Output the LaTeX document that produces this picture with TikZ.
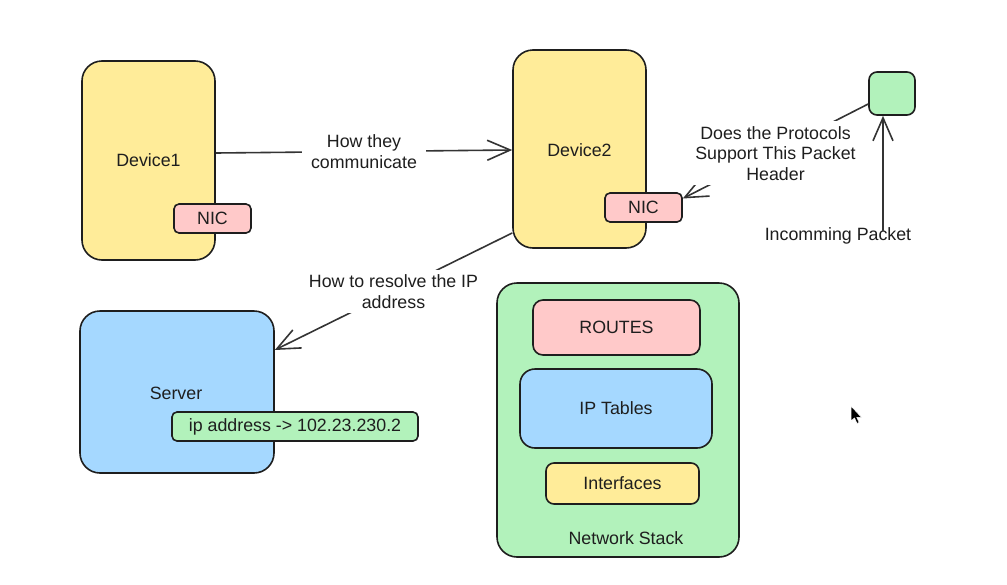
\documentclass[tikz,border=0pt]{standalone}
\usepackage{fontspec}
\setmainfont{Liberation Sans}
\usetikzlibrary{arrows.meta}
\definecolor{cyel}{HTML}{FFEC99}
\definecolor{cpink}{HTML}{FFC9C9}
\definecolor{cblue}{HTML}{A5D8FF}
\definecolor{cgreen}{HTML}{B2F2BB}
\definecolor{cstroke}{HTML}{1E1E1E}
\definecolor{cline}{HTML}{343434}
\definecolor{ctext}{HTML}{1E1E1E}
\tikzset{
  box/.style={draw=cstroke, line width=1.6pt, rounded corners=#1, inner sep=0pt, text=ctext,
     font=\fontsize{17.8pt}{20pt}\selectfont},
  box/.default=20pt,
  lbl/.style={fill=white, inner xsep=9pt, inner ysep=5pt, align=center, text=ctext,
     font=\fontsize{17.8pt}{20.5pt}\selectfont},
  plain/.style={inner sep=2pt, align=center, text=ctext,
     font=\fontsize{17.8pt}{20.5pt}\selectfont},
  arr/.style={draw=cline, line width=1.6pt, -{Straight Barb[length=23pt,width=20pt]}},
}
\begin{document}
\begin{tikzpicture}[x=1pt,y=-1pt]
\useasboundingbox[fill=white] (0,0) rectangle (1007,584);
% boxes
\node[box, fill=cyel, minimum width=133pt, minimum height=199pt] (d1) at (148.5,160.5) {Device1};
\node[box=5pt, fill=cpink, minimum width=77pt, minimum height=29pt] (n1) at (212.5,218.5) {NIC};
\node[box, fill=cyel, minimum width=133pt, minimum height=198pt] (d2) at (579.5,149) {};
\node[plain] (d2l) at (579.5,150) {Device2};
\node[box=5pt, fill=cpink, minimum width=77pt, minimum height=29pt] (n2) at (643.5,207.5) {NIC};
\node[box=8pt, fill=cgreen, minimum width=46pt, minimum height=43pt] (gs) at (892,93.5) {};
\node[box, fill=cblue, minimum width=194pt, minimum height=162pt] (srv) at (177,392) {};
\node[plain] (srvl) at (176,393) {Server};
\node[box=5pt, fill=cgreen, minimum width=246pt, minimum height=29pt] (ipa) at (295,426.5) {ip address -> 102.23.230.2};
\node[box, fill=cgreen, minimum width=242pt, minimum height=274pt] (ns) at (618,420) {};
\node[plain] (nsl) at (626,538) {Network Stack};
\node[box=10pt, fill=cpink, minimum width=167pt, minimum height=55pt] (rt) at (616.5,327.5) {ROUTES};
\node[box=15pt, fill=cblue, minimum width=192pt, minimum height=79pt] (ipt) at (616,408.5) {IP Tables};
\node[box=8pt, fill=cyel, minimum width=153pt, minimum height=41pt] (ifs) at (622.5,483.5) {Interfaces};
\node[plain] (inc) at (838,236) {Incomming Packet};
% connectors
\draw[arr] ([yshift=7.5pt]d1.east) -- node[lbl] (l1) {How they\\communicate} ([yshift=-1pt]d2.west);
\draw[arr] ([yshift=-10.5pt]gs.west) -- node[lbl, pos=0.5, yshift=-2pt] (l2) {Does the Protocols\\Support This Packet\\Header} ([yshift=9pt]n2.east);
\draw[arr] ([xshift=-9pt,yshift=-5pt]gs.south |- inc.north) -- ([xshift=-9pt]gs.south);
\draw[arr] ([yshift=-84pt]d2.west) -- node[lbl] (l3) {How to resolve the IP\\address} ([yshift=42pt]srv.east);
% cursor
\fill[black, draw=white, line width=0.6pt] (851,406) -- (851,421) -- (854.5,418) -- (857,423.5) -- (859.2,422.5) -- (856.8,417.3) -- (861.5,417.3) -- cycle;
\end{tikzpicture}
\end{document}
